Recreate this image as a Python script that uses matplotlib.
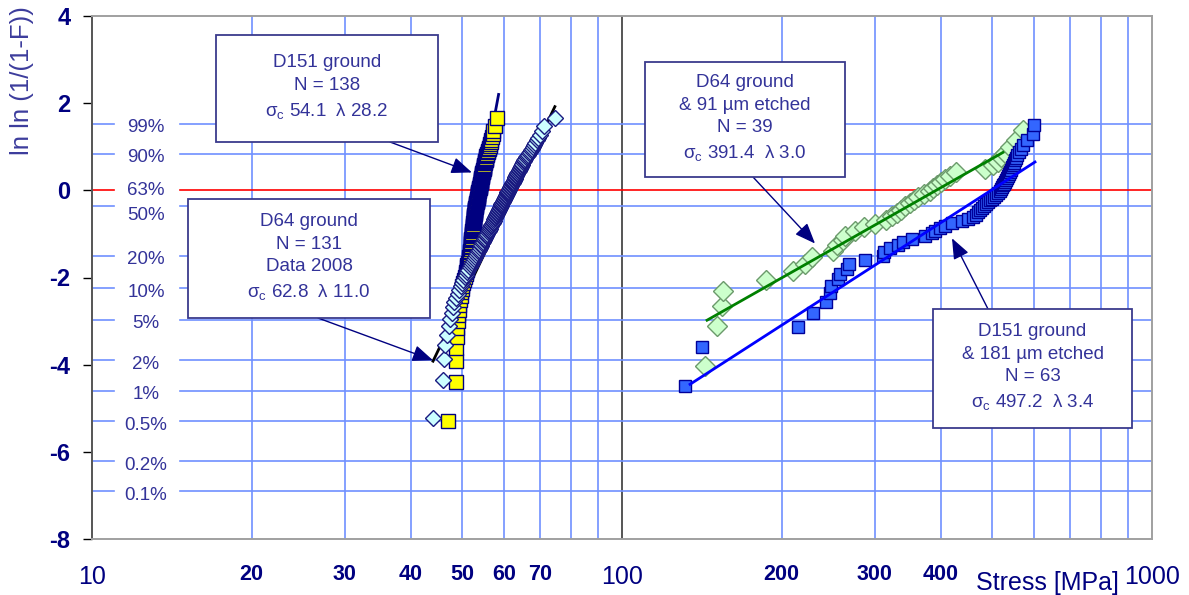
import numpy as np
import matplotlib.pyplot as plt
from matplotlib.patches import Rectangle
from matplotlib.ticker import NullLocator
from matplotlib.transforms import blended_transform_factory

plt.rcParams['font.family'] = ['Liberation Sans', 'DejaVu Sans']
plt.rcParams['mathtext.fontset'] = 'custom'
plt.rcParams['mathtext.rm'] = 'Liberation Sans'
plt.rcParams['mathtext.it'] = 'Liberation Sans:italic'
plt.rcParams['axes.unicode_minus'] = False

navy = '#000080'
text_blue = '#333399'
grid_blue = '#7090ff'

# fracture stress [MPa] per series
d151_ground = [
    46.9, 48.6, 48.6, 48.7, 48.8, 48.9, 49.0, 49.1, 49.2, 49.3,
    49.4, 49.6, 49.7, 49.9, 50.0, 50.2, 50.4, 50.5, 50.7, 50.8,
    50.9, 51.0, 51.1, 51.3, 51.4, 51.5, 51.5, 51.6, 51.6, 51.7,
    51.7, 51.8, 51.8, 51.9, 51.9, 51.9, 52.0, 52.0, 52.0, 52.1,
    52.1, 52.1, 52.2, 52.2, 52.2, 52.3, 52.3, 52.3, 52.4, 52.4,
    52.4, 52.4, 52.5, 52.5, 52.5, 52.5, 52.6, 52.6, 52.6, 52.6,
    52.7, 52.7, 52.7, 52.8, 52.8, 52.8, 52.9, 52.9, 53.0, 53.0,
    53.0, 53.1, 53.1, 53.2, 53.2, 53.2, 53.3, 53.3, 53.4, 53.4,
    53.4, 53.5, 53.5, 53.6, 53.6, 53.6, 53.7, 53.7, 53.8, 53.8,
    53.9, 53.9, 53.9, 54.0, 54.0, 54.1, 54.1, 54.1, 54.2, 54.2,
    54.3, 54.3, 54.4, 54.4, 54.5, 54.5, 54.5, 54.6, 54.6, 54.7,
    54.7, 54.8, 54.8, 54.9, 54.9, 55.0, 55.1, 55.1, 55.2, 55.3,
    55.4, 55.4, 55.5, 55.6, 55.7, 55.8, 55.9, 56.0, 56.2, 56.3,
    56.4, 56.5, 56.6, 56.8, 57.0, 57.2, 57.6, 58.0,
]
d64_ground = [
    43.9, 45.9, 46.2, 46.4, 46.8, 47.1, 47.4, 47.7, 48.0, 48.2,
    48.6, 49.0, 49.3, 49.6, 49.9, 50.2, 50.5, 50.8, 51.0, 51.3,
    51.6, 51.8, 52.1, 52.3, 52.6, 52.8, 53.0, 53.3, 53.5, 53.7,
    53.9, 54.1, 54.3, 54.4, 54.6, 54.8, 55.0, 55.1, 55.3, 55.5,
    55.7, 55.8, 56.0, 56.1, 56.3, 56.4, 56.6, 56.7, 56.9, 57.0,
    57.1, 57.3, 57.4, 57.6, 57.7, 57.8, 57.9, 58.1, 58.2, 58.3,
    58.4, 58.5, 58.6, 58.8, 58.9, 59.0, 59.1, 59.2, 59.4, 59.5,
    59.6, 59.7, 59.8, 60.0, 60.1, 60.2, 60.3, 60.4, 60.6, 60.7,
    60.8, 60.9, 61.0, 61.2, 61.3, 61.4, 61.5, 61.7, 61.8, 61.9,
    62.0, 62.2, 62.3, 62.5, 62.6, 62.7, 62.8, 62.9, 63.1, 63.2,
    63.3, 63.5, 63.6, 63.8, 63.9, 64.1, 64.2, 64.4, 64.5, 64.7,
    64.9, 65.1, 65.3, 65.4, 65.6, 65.9, 66.2, 66.4, 66.7, 67.0,
    67.3, 67.6, 68.0, 68.3, 68.6, 69.1, 69.5, 70.0, 70.6, 71.3,
    74.7,
]
d64_etched = [
    143.5, 150.9, 154.2, 155.3, 186.9, 210.5, 221.5, 228.0, 250.1, 254.2,
    261.2, 263.5, 275.3, 286.2, 300.2, 314.8, 323.1, 330.2, 336.0, 342.0,
    349.5, 355.6, 361.8, 371.4, 381.2, 386.2, 393.0, 399.9, 406.8, 415.8,
    426.8, 484.1, 501.2, 512.2, 518.9, 528.0, 539.7, 553.9, 571.0,
]
d151_etched = [
    131.5, 141.4, 215.1, 229.0, 242.6, 246.9, 247.5, 255.9, 257.9, 265.8,
    268.1, 287.4, 310.8, 312.1, 320.4, 331.7, 339.0, 352.0, 372.9, 384.0,
    389.5, 398.1, 406.8, 418.9, 437.5, 450.2, 459.5, 465.6, 469.6, 473.7,
    477.8, 482.0, 486.2, 490.4, 494.7, 499.0, 503.4, 507.8, 512.2, 516.7,
    518.9, 521.1, 523.4, 525.7, 528.0, 530.3, 532.6, 534.9, 537.2, 539.6,
    541.9, 544.3, 546.6, 549.0, 551.4, 553.8, 556.0, 560.0, 565.0, 571.0,
    581.0, 596.6, 599.5,
]

# fitted Weibull lines (end points)
fit_d151_x, fit_d151_y = [47.5, 58.5], [-3.7, 2.2]
fit_d64_x, fit_d64_y = [44.0, 74.7], [-3.92, 1.92]
fit_d64e_x, fit_d64e_y = [144.7, 523.4], [-2.98, 0.87]
fit_d151e_x, fit_d151e_y = [134.4, 601.5], [-4.45, 0.65]

prob_levels = [99, 90, 63.21, 50, 20, 10, 5, 2, 1, 0.5, 0.2, 0.1]
prob_labels = ['99%', '90%', '63%', '50%', '20%', '10%', '5%', '2%', '1%', '0.5%', '0.2%', '0.1%']

grid_x = [20, 30, 40, 50, 60, 70, 80, 90, 200, 300, 400, 500, 600, 700, 800, 900]
big_xlabels = [10, 100]
small_xlabels = [20, 30, 40, 50, 60, 70, 200, 300, 400]

box_texts = [
    ['D151 ground', 'N = 138', 'σ$_\\mathrm{c}$ 54.1  λ 28.2'],
    ['D64 ground', 'N = 131', 'Data 2008', 'σ$_\\mathrm{c}$ 62.8  λ 11.0'],
    ['D64 ground', '& 91 µm etched', 'N = 39', 'σ$_\\mathrm{c}$ 391.4  λ 3.0'],
    ['D151 ground', '& 181 µm etched', 'N = 63', 'σ$_\\mathrm{c}$ 497.2  λ 3.4'],
]
# box rectangles in image pixels (x0, y0, x1, y1) and arrow start / tip
box_px = [(216, 35, 438, 142), (188, 199, 430, 318), (645, 62, 845, 177), (933, 309, 1132, 428)]
arrow_start_px = [(390, 142), (318, 318), (753, 177), (988, 309)]
arrow_tip = [(52.1, 0.41), (44.0, -3.9), (231.3, -1.22), (419.4, -1.10)]


def weibull_points(stress):
    s = np.sort(np.asarray(stress, dtype=float))
    n = s.size
    F = (np.arange(1, n + 1) - 0.3) / (n + 0.4)
    return s, np.log(-np.log(1 - F))


W, H = 1189, 595
fx = lambda px: px / W
fy = lambda py: 1 - py / H

fig = plt.figure(figsize=(W / 100, H / 100), dpi=100)
ax = fig.add_axes([fx(92), fy(539), (1152 - 92) / W, (539 - 16) / H])
ax.set_xscale('log')
ax.set_xlim(10, 1000)
ax.set_ylim(-8, 4)

for v in grid_x:
    ax.axvline(v, color=grid_blue, lw=1.2, zorder=0.5)
ax.axvline(100, color='#555555', lw=1.4, zorder=0.6)

lab_tr = blended_transform_factory(ax.transAxes, ax.transData)
for p, lab in zip(prob_levels, prob_labels):
    yv = np.log(-np.log(1 - p / 100))
    c = 'red' if lab == '63%' else grid_blue
    ax.axhline(yv, xmin=0, xmax=0.021, color=c, lw=1.2, zorder=0.7)
    ax.axhline(yv, xmin=0.083, xmax=1, color=c, lw=1.2, zorder=0.7)
    off = {'63%': 0.0, '50%': -0.2}.get(lab, -0.09)
    ax.text(0.051, yv + off, lab, transform=lab_tr, ha='center', va='center',
            fontsize=13.5, color=text_blue)

# fit lines under the dense left-hand markers
ax.plot(fit_d151_x, fit_d151_y, color=navy, lw=2, zorder=2)
ax.plot(fit_d64_x, fit_d64_y, color='black', lw=2, zorder=2)

x, y = weibull_points(d151_ground)
ax.plot(x, y, 's', ms=9.5, mfc='#ffff00', mec=navy, mew=1, zorder=3)
x, y = weibull_points(d64_ground)
ax.plot(x, y, 'D', ms=8.3, mfc='#ccffff', mec='#1a1a80', mew=1, zorder=3)
x, y = weibull_points(d64_etched)
ax.plot(x, y, 'D', ms=9.8, mfc='#ccffcc', mec='#6b9a6b', mew=1, zorder=3)
x, y = weibull_points(d151_etched)
ax.plot(x, y, 's', ms=9.3, mfc='#3366ff', mec='#000099', mew=1, zorder=3)

ax.plot(fit_d64e_x, fit_d64e_y, color='#008000', lw=2, zorder=4)
ax.plot(fit_d151e_x, fit_d151e_y, color='#0000ff', lw=2, zorder=4)

# axes styling
ax.set_xticks([])
ax.xaxis.set_minor_locator(NullLocator())
ax.set_yticks(range(-8, 5, 2))
ax.tick_params(axis='y', direction='out', length=6.5, width=1, color='black',
               labelsize=17, labelcolor=navy, pad=9)
for t in ax.get_yticklabels():
    t.set_fontweight('bold')
for side in ['top', 'right', 'bottom']:
    ax.spines[side].set_color('#a0a0a0')
    ax.spines[side].set_linewidth(1.4)
ax.spines['left'].set_color('#555555')
ax.spines['left'].set_linewidth(1.4)

xl_tr = blended_transform_factory(ax.transData, ax.transAxes)
for v in big_xlabels:
    ax.text(v, -0.0727, str(v), transform=xl_tr, ha='center', va='center',
            fontsize=18, color=navy, clip_on=False)
for v in small_xlabels:
    ax.text(v, -0.068, str(v), transform=xl_tr, ha='center', va='center',
            fontsize=15.5, fontweight='bold', color=navy, clip_on=False)
ax.text(1000, -0.073, '1000', transform=xl_tr, ha='center', va='center',
        fontsize=18, color=navy, clip_on=False)
fig.text(fx(1119), fy(583), 'Stress [MPa]', ha='right', va='center',
         fontsize=18, color=navy)
fig.text(fx(22), fy(81), 'ln ln (1/(1-F))', rotation=90, ha='center', va='center',
         fontsize=18.5, color='#3c3c9c')

# annotation boxes and arrows
for lines, (x0, y0, x1, y1) in zip(box_texts, box_px):
    fig.add_artist(Rectangle((fx(x0), fy(y1)), (x1 - x0) / W, (y1 - y0) / H,
                             transform=fig.transFigure, facecolor='white',
                             edgecolor='#3a3a8c', lw=1.3, zorder=5))
    fig.text(fx((x0 + x1) / 2), fy((y0 + y1) / 2 - 1), '\n'.join(lines),
             ha='center', va='center', fontsize=13.5, color=text_blue,
             linespacing=1.45, zorder=6)

for (sx, sy), tip in zip(arrow_start_px, arrow_tip):
    ax.annotate('', xy=tip, xycoords='data', xytext=(fx(sx), fy(sy)),
                textcoords='figure fraction',
                arrowprops=dict(arrowstyle='-|>,head_length=0.7,head_width=0.28',
                                color=navy, lw=1.0, shrinkA=0, shrinkB=0,
                                mutation_scale=18), zorder=7)

fig.savefig('out.png', dpi=100, facecolor='white')
